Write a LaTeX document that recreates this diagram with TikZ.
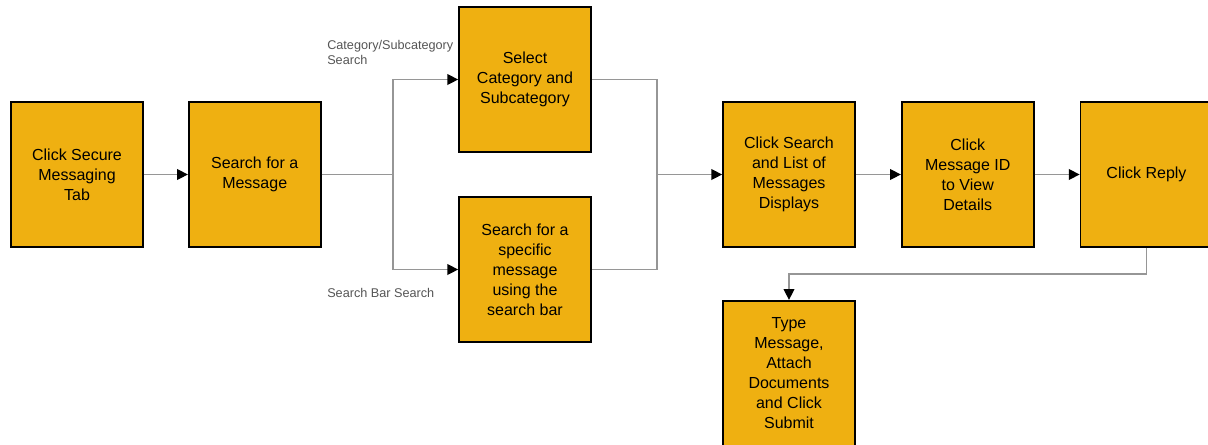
\documentclass[tikz,border=0pt]{standalone}
\usepackage{fontspec}
\setmainfont{Liberation Sans}
\usepackage{tikz}
\usetikzlibrary{arrows.meta}
\usetikzlibrary{positioning}
\definecolor{boxfill}{RGB}{239,176,17}
\definecolor{linegray}{RGB}{150,150,150}
\definecolor{lblgray}{RGB}{85,85,85}

\begin{document}
\begin{tikzpicture}[x=0.75pt, y=-0.75pt, node distance=33pt,
    stepbox/.style={draw=black, line width=1.3pt, fill=boxfill, minimum width=99pt,
        minimum height=108.75pt, align=center, inner sep=0pt,
        font=\fontsize{12}{15}\selectfont},
    conn/.style={draw=linegray, line width=1pt},
    flow/.style={conn, -{Triangle[length=8pt, width=8pt, color=black]}},
    lbl/.style={text=lblgray, align=left, inner sep=0pt, font=\fontsize{9.5}{11.25}\selectfont}]
    \useasboundingbox (0,0) rectangle (1208,444);
    % main row
    \node[stepbox] (tab) at (77,174.5) {Click Secure\\Messaging\\Tab};
    \node[stepbox, right=of tab] (find) {Search for a\\Message};
    \node[stepbox] (cat) at (525,79.5) {Select\\Category and\\Subcategory};
    \node[stepbox] (bar) at (525,269.5) {Search for a\\specific\\message\\using the\\search bar};
    \node[stepbox] (list) at (789,174.5) {Click Search\\and List of\\Messages\\Displays};
    \node[stepbox, right=33.75pt of list] (msgid) {Click\\Message ID\\to View\\Details};
    \node[stepbox, right=33.75pt of msgid] (reply) {Click Reply};
    \node[stepbox, below=39pt of list] (submit) {Type\\Message,\\Attach\\Documents\\and Click\\Submit};
    % branch labels
    \node[lbl, anchor=north west] (catlbl) at (327,40) {Category/Subcategory\\Search};
    \node[lbl, anchor=north west] (barlbl) at (327,288) {Search Bar Search};
    \coordinate (split) at (393,174.5);
    \coordinate (join) at (657,174.5);
    % connectors
    \draw[flow] (tab) -- (find);
    \draw[conn] (find) -- (split);
    \draw[flow] (split) |- (cat);
    \draw[flow] (split) |- (bar);
    \draw[conn] (cat) -| (join);
    \draw[conn] (bar) -| (join);
    \draw[flow] (join) -- (list);
    \draw[flow] (list) -- (msgid);
    \draw[flow] (msgid) -- (reply);
    \draw[flow] (reply.south) -- ++(0,26) -| (submit.north);
\end{tikzpicture}
\end{document}
